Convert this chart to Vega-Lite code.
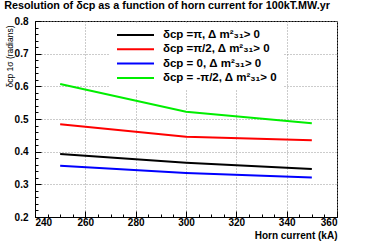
{
  "$schema": "https://vega.github.io/schema/vega-lite/v6.json",
  "autosize": "none",
  "width": 302,
  "height": 196,
  "padding": {"left": 35, "top": 21, "right": 37, "bottom": 25},
  "background": "white",
  "config": {
    "view": {"stroke": "black", "strokeWidth": 1},
    "font": "Liberation Sans"
  },
  "title": {
    "text": "Resolution of δcp as a function of horn current for 100kT.MW.yr",
    "anchor": "middle",
    "frame": "group",
    "dx": -19,
    "offset": 5,
    "fontSize": 10.8,
    "fontWeight": "bold",
    "font": "Liberation Sans",
    "color": "black"
  },
  "data": {
    "values": [
      {"current": 250, "resolution": 0.393, "series": "δcp =π, Δ m²₃₁> 0"},
      {"current": 300, "resolution": 0.366, "series": "δcp =π, Δ m²₃₁> 0"},
      {"current": 350, "resolution": 0.347, "series": "δcp =π, Δ m²₃₁> 0"},
      {"current": 250, "resolution": 0.484, "series": "δcp =π/2, Δ m²₃₁> 0"},
      {"current": 300, "resolution": 0.446, "series": "δcp =π/2, Δ m²₃₁> 0"},
      {"current": 350, "resolution": 0.435, "series": "δcp =π/2, Δ m²₃₁> 0"},
      {"current": 250, "resolution": 0.357, "series": "δcp = 0, Δ m²₃₁> 0"},
      {"current": 300, "resolution": 0.335, "series": "δcp = 0, Δ m²₃₁> 0"},
      {"current": 350, "resolution": 0.321, "series": "δcp = 0, Δ m²₃₁> 0"},
      {"current": 250, "resolution": 0.607, "series": "δcp = -π/2, Δ m²₃₁> 0"},
      {"current": 300, "resolution": 0.522, "series": "δcp = -π/2, Δ m²₃₁> 0"},
      {"current": 350, "resolution": 0.487, "series": "δcp = -π/2, Δ m²₃₁> 0"}
    ]
  },
  "layer": [
    {
      "mark": {"type": "line", "opacity": 0},
      "encoding": {
        "x": {
          "field": "current", "type": "quantitative",
          "scale": {"domain": [240, 360], "nice": false, "zero": false},
          "axis": {
            "orient": "bottom", "values": [240,245,250,255,260,265,270,275,280,285,290,295,300,305,310,315,320,325,330,335,340,345,350,355,360],
            "labels": false, "grid": false, "domain": false, "tickSize": -3, "tickColor": "black", "title": null
          }
        },
        "y": {
          "field": "resolution", "type": "quantitative",
          "scale": {"domain": [0.2, 0.8], "nice": false, "zero": false},
          "axis": {
            "orient": "left", "values": [0.2,0.22,0.24,0.26,0.28,0.3,0.32,0.34,0.36,0.38,0.4,0.42,0.44,0.46,0.48,0.5,0.52,0.54,0.56,0.58,0.6,0.62,0.64,0.66,0.68,0.7,0.72,0.74,0.76,0.78,0.8],
            "labels": false, "grid": false, "domain": false, "tickSize": -3, "tickColor": "black", "title": null
          }
        },
        "detail": {"field": "series"}
      }
    },
    {
      "mark": {"type": "line", "strokeWidth": 2},
      "encoding": {
        "x": {
          "field": "current", "type": "quantitative",
          "scale": {"domain": [240, 360], "nice": false, "zero": false},
          "axis": {
            "orient": "bottom", "values": [240, 260, 280, 300, 320, 340, 360],
            "grid": true, "gridColor": "#999999", "gridDash": [1, 2], "gridWidth": 1,
            "domain": true, "domainColor": "black", "tickSize": -6, "tickColor": "black",
            "labelFontSize": 10, "labelFontWeight": "bold", "labelColor": "black", "labelPadding": 6,
            "title": "Horn current (kA)", "titleAnchor": "end", "titleFontSize": 10, "titleFontWeight": "bold",
            "titleColor": "black", "titleY": 13, "titleBaseline": "top", "titleX": 302, "titleAlign": "right"
          }
        },
        "y": {
          "field": "resolution", "type": "quantitative",
          "scale": {"domain": [0.2, 0.8], "nice": false, "zero": false},
          "axis": {
            "orient": "left", "values": [0.2, 0.3, 0.4, 0.5, 0.6, 0.7, 0.8], "format": ".1f",
            "grid": true, "gridColor": "#999999", "gridDash": [1, 2], "gridWidth": 1,
            "domain": true, "domainColor": "black", "tickSize": -6, "tickColor": "black",
            "labelFontSize": 10, "labelFontWeight": "bold", "labelColor": "black", "labelPadding": 13,
            "title": "δcp 1σ (radians)", "titleAnchor": "end", "titleFontSize": 8.5, "titleFontWeight": "normal",
            "titleColor": "black", "titleX": -21, "titleY": 4, "titleAlign": "right"
          }
        },
        "color": {
          "field": "series", "type": "nominal",
          "sort": ["δcp =π, Δ m²₃₁> 0", "δcp =π/2, Δ m²₃₁> 0", "δcp = 0, Δ m²₃₁> 0", "δcp = -π/2, Δ m²₃₁> 0"],
          "scale": {
            "domain": ["δcp =π, Δ m²₃₁> 0", "δcp =π/2, Δ m²₃₁> 0", "δcp = 0, Δ m²₃₁> 0", "δcp = -π/2, Δ m²₃₁> 0"],
            "range": ["#000000", "#ff0000", "#0000ff", "#00ee00"]
          },
          "legend": {
            "orient": "none", "legendX": 75, "legendY": 2, "title": null,
            "fillColor": "white", "padding": 6,
            "symbolType": "stroke", "symbolSize": 1369, "symbolStrokeWidth": 2,
            "clipHeight": 12,
            "labelFontSize": 11.5, "labelFontWeight": "bold", "labelColor": "black", "labelOffset": 8,
            "rowPadding": 2.3, "labelLimit": 220
          }
        }
      }
    }
  ],
  "resolve": {"axis": {"x": "independent", "y": "independent"}}
}
